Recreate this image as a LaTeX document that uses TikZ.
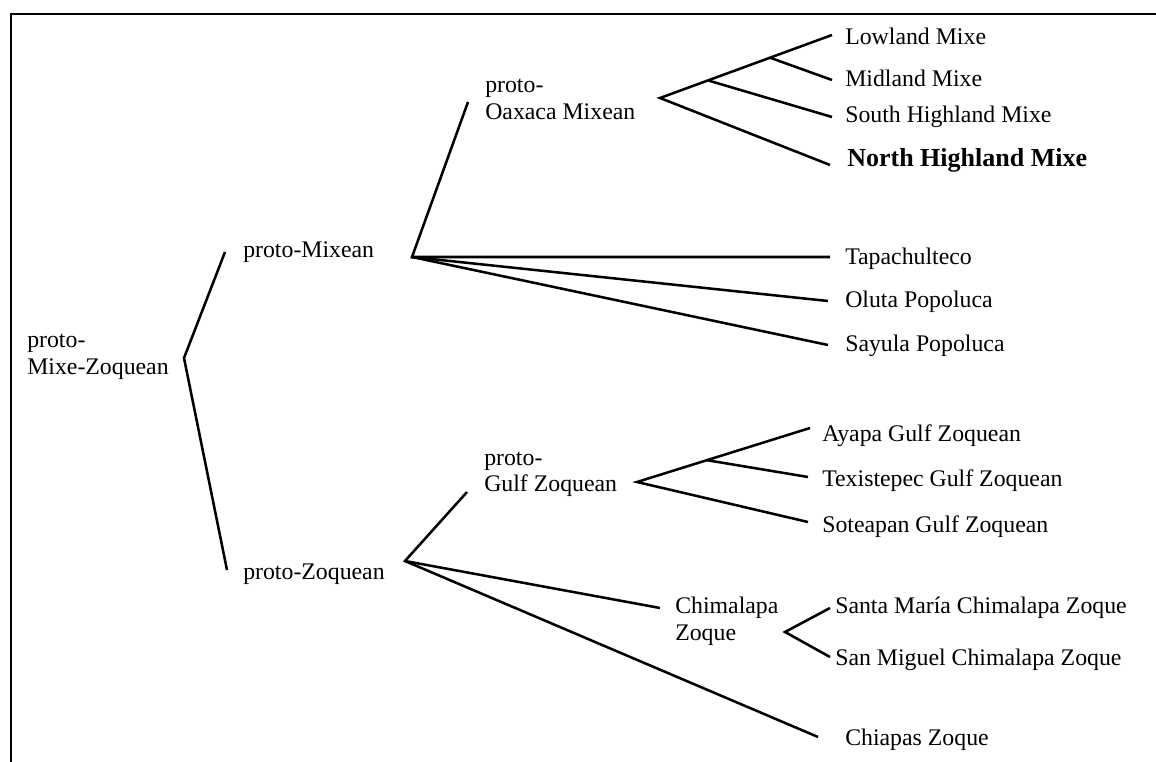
\documentclass[tikz,border=0pt]{standalone}
\usepackage{fontspec}
\setmainfont{Liberation Serif}
\begin{document}
\begin{tikzpicture}[x=0.75pt,y=-0.75pt,
  lbl/.style={anchor=base west,inner sep=0pt,font=\fontsize{17.85}{20.25}\selectfont,align=left},
  boldlbl/.style={lbl,font=\fontsize{19.5}{22}\selectfont\bfseries},
  branch/.style={line width=1.9pt,line join=miter,line cap=butt},
  frameline/.style={line width=1.3pt}]
\useasboundingbox (0,0) rectangle (1156,762);
\draw[frameline] (11,762) -- (11,14) -- (1156,14);

% branch points and line ends
\coordinate (vPMZ) at (184,358);
\coordinate (ePM) at (225,252);
\coordinate (ePZ) at (227,570);
\coordinate (vPM) at (412,257);
\coordinate (ePOM) at (468,102);
\coordinate (eTap) at (830,257);
\coordinate (eOlu) at (828,301);
\coordinate (eSay) at (828,345);
\coordinate (vPOM) at (660,98);
\coordinate (jA) at (708,80.4);
\coordinate (jB) at (770,57.7);
\coordinate (eLow) at (832,35);
\coordinate (eMid) at (832,80);
\coordinate (eSou) at (832,117);
\coordinate (eNor) at (830,165);
\coordinate (vPZ) at (405,561);
\coordinate (ePGZ) at (467,492);
\coordinate (eChZ) at (660,608);
\coordinate (eChi) at (818,737);
\coordinate (vPGZ) at (637,482);
\coordinate (jC) at (707,460.2);
\coordinate (eAya) at (810,428);
\coordinate (eTex) at (808,477);
\coordinate (eSot) at (808,522);
\coordinate (vChZ) at (785,632);
\coordinate (eSM) at (830,608);
\coordinate (eSMi) at (830,657);

% labels (multi-line labels are placed by the baseline of their last line)
\node[lbl] (pMZ) at (27,375) {proto-\\Mixe-Zoquean};
\node[lbl] (pM) at (243,258) {proto-Mixean};
\node[lbl] (pZ) at (243,579) {proto-Zoquean};
\node[lbl] (pOM) at (485,120) {proto-\\Oaxaca Mixean};
\node[lbl] (pGZ) at (484,492) {proto-\\Gulf Zoquean};
\node[lbl] (ChZ) at (675,640) {Chimalapa\\Zoque};
\node[lbl] (Low) at (845,45) {Lowland Mixe};
\node[lbl] (Mid) at (845,87) {Midland Mixe};
\node[lbl] (Sou) at (845,123) {South Highland Mixe};
\node[boldlbl] (Nor) at (847,167) {North Highland Mixe};
\node[lbl] (Tap) at (845,265) {Tapachulteco};
\node[lbl] (Olu) at (845,308) {Oluta Popoluca};
\node[lbl] (Say) at (845,352) {Sayula Popoluca};
\node[lbl] (Aya) at (822,442) {Ayapa Gulf Zoquean};
\node[lbl] (Tex) at (822,487) {Texistepec Gulf Zoquean};
\node[lbl] (Sot) at (822,532) {Soteapan Gulf Zoquean};
\node[lbl] (SM) at (835,613) {Santa María Chimalapa Zoque};
\node[lbl] (SMi) at (835,665) {San Miguel Chimalapa Zoque};
\node[lbl] (Chi) at (845,745) {Chiapas Zoque};

% branches
\draw[branch] (ePM) -- (vPMZ) -- (ePZ);
\draw[branch] (ePOM) -- (vPM) -- (eTap);
\draw[branch] (vPM) -- (eOlu);
\draw[branch] (vPM) -- (eSay);
\draw[branch] (eLow) -- (vPOM) -- (eNor);
\draw[branch] (jA) -- (eSou);
\draw[branch] (jB) -- (eMid);
\draw[branch] (ePGZ) -- (vPZ) -- (eChi);
\draw[branch] (vPZ) -- (eChZ);
\draw[branch] (eAya) -- (vPGZ) -- (eSot);
\draw[branch] (jC) -- (eTex);
\draw[branch] (eSM) -- (vChZ) -- (eSMi);
\end{tikzpicture}
\end{document}
